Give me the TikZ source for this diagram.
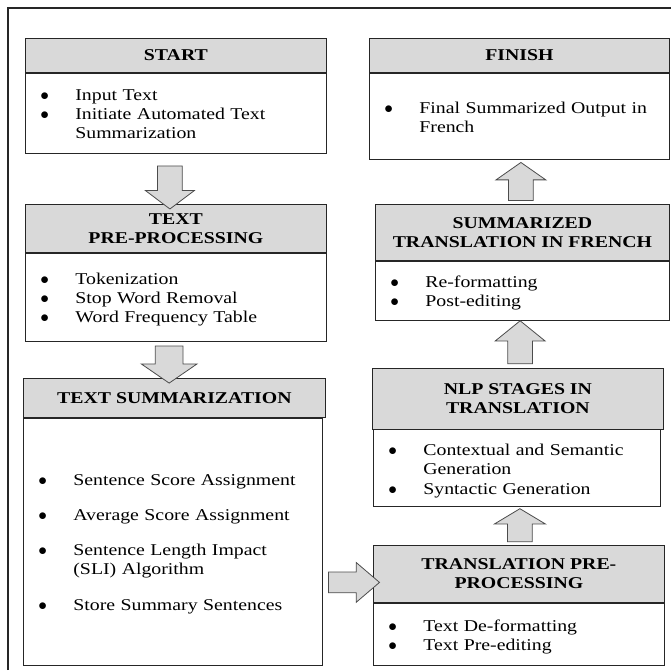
\documentclass[tikz,border=0pt]{standalone}
\usepackage{fontspec}
\setmainfont{Liberation Serif}[FakeStretch=1.2]
\usetikzlibrary{shapes.arrows}
\newcommand{\bitem}[1]{\par\noindent\hspace*{15pt}\makebox[35pt][l]{$\bullet$}\parbox[t]{\dimexpr\hsize-50pt\relax}{\raggedright\strut#1\strut}\par}
\newcommand{\bgap}{\vspace{16pt}}
\tikzset{
 outerframe/.style={draw=black!85,line width=1.4pt},
 stagehead/.style={draw=black!85,line width=.8pt,fill=black!15,anchor=north west,inner sep=0,align=center,font=\fontsize{16.5}{19}\selectfont\bfseries},
 stagebody/.style={draw=black!85,line width=.8pt,fill=white,anchor=north west,inner sep=0,font=\fontsize{16.5}{19}\selectfont},
 fatarrow/.style={single arrow,draw=black!70,line width=.8pt,fill=black!15,inner xsep=0,inner ysep=12pt,single arrow head extend=12pt,single arrow tip angle=106}
}

\begin{document}
\begin{tikzpicture}[x=1pt,y=-1pt]
\path[use as bounding box] (0,0) rectangle (671,670);
\draw[outerframe] (8,670) -- (8,8) -- (671,8);
\node[stagehead,minimum width=301pt,minimum height=34pt] (starthead) at (25,38) {START};
\node[stagebody,text width=301pt,minimum height=80pt] (startbody) at (starthead.south west) {\bitem{Input Text}\bitem{Initiate Automated Text\\Summarization}};
\node[stagehead,minimum width=301pt,minimum height=48pt] (prehead) at (25,204) {TEXT\\PRE-PROCESSING};
\node[stagebody,text width=301pt,minimum height=88pt] (prebody) at (prehead.south west) {\bitem{Tokenization}\bitem{Stop Word Removal}\bitem{Word Frequency Table}};
\node[stagehead,minimum width=302pt,minimum height=39pt] (summhead) at (23,378) {TEXT SUMMARIZATION};
\node[stagebody,text width=299pt,minimum height=247pt] (summbody) at (summhead.south west) {\bitem{Sentence Score Assignment}\bgap\bitem{Average Score Assignment}\bgap\bitem{Sentence Length Impact\\(SLI) Algorithm}\bgap\bitem{Store Summary Sentences}};
\node[stagehead,minimum width=300pt,minimum height=34pt] (finishhead) at (369,38) {FINISH};
\node[stagebody,text width=300pt,minimum height=86pt] (finishbody) at (finishhead.south west) {\bitem{Final Summarized Output in\\French}};
\node[stagehead,minimum width=294pt,minimum height=56pt] (sumtrhead) at (375,204) {SUMMARIZED\\TRANSLATION IN FRENCH};
\node[stagebody,text width=294pt,minimum height=59pt] (sumtrbody) at (sumtrhead.south west) {\bitem{Re-formatting}\bitem{Post-editing}};
\node[stagehead,minimum width=291pt,minimum height=61pt] (nlphead) at (372,368) {NLP STAGES IN\\TRANSLATION};
\node[stagebody,text width=287pt,minimum height=77pt] (nlpbody) at (373,429) {\bitem{Contextual and Semantic\\Generation}\bitem{Syntactic Generation}};
\node[stagehead,minimum width=291pt,minimum height=57pt] (tpphead) at (373,545) {TRANSLATION PRE-\\PROCESSING};
\node[stagebody,text width=291pt,minimum height=62pt] (tppbody) at (tpphead.south west) {\bitem{Text De-formatting}\bitem{Text Pre-editing}};
\path ([xshift=-6pt,yshift=-8pt]startbody.south) -- node[fatarrow,rotate=-90,minimum height=43pt] {} ([xshift=-6pt]prehead.north);
\path ([xshift=-6pt]prebody.south) -- node[fatarrow,rotate=-90,minimum height=37pt,inner ysep=13.5pt,single arrow head extend=14pt,single arrow tip angle=111] {} ([xshift=-6pt]summhead.north);
\path ([yshift=-8.5pt]tpphead.west -| summbody.east) -- node[fatarrow,minimum height=51pt,inner ysep=10pt,single arrow head extend=9.5pt,single arrow tip angle=81] {} ([yshift=-8.5pt]tpphead.west);
\path ([xshift=2pt]tpphead.north) -- node[fatarrow,rotate=90,minimum height=33pt,single arrow head extend=13pt,single arrow tip angle=118] {} ([xshift=2pt,yshift=-6pt]nlpbody.south);
\path (nlphead.north) -- node[fatarrow,rotate=90,minimum height=43pt,single arrow head extend=12.5pt,single arrow tip angle=102] {} ([yshift=-6pt]sumtrbody.south);
\path (sumtrhead.north) -- node[fatarrow,rotate=90,minimum height=38pt,single arrow head extend=12.5pt,single arrow tip angle=110] {} ([yshift=-8pt]finishbody.south);
\end{tikzpicture}
\end{document}
